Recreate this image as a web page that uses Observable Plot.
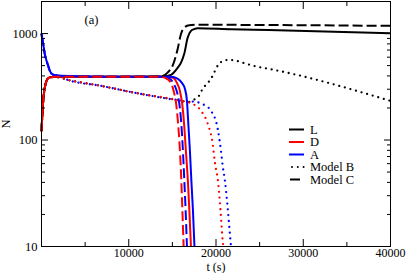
<!DOCTYPE html>
<html><head><meta charset="utf-8">
<script src="https://cdn.jsdelivr.net/npm/d3@7"></script>
<script src="https://cdn.jsdelivr.net/npm/@observablehq/plot@0.6"></script>
<style>
body{margin:0;background:#fff}
#wrap{position:relative;width:407px;height:273px;font-family:"Liberation Serif","Times New Roman",serif}
#legend{position:absolute;left:286px;top:122px}
</style></head><body><div id="wrap"></div>
<script>
// ---- data ----
const species = ["L", "D", "A"];
const models = ["A", "B", "C"];
const legendLabels = ["L", "D", "A", "Model B", "Model C"];

// start transient (shared)
const tStartLD = [0, 80, 195, 380, 575, 885, 1530];
const nStartLD = [122, 163, 233, 311, 360, 386, 392];
const tStartA = [0, 195, 380, 575, 770, 955, 1345, 2100];
const nStartA = [986, 794, 641, 555, 497, 447, 410, 401];

// Model A (solid)
const tLA = [8000, 14000, 14830, 15600, 15980, 16360, 16750, 17130, 17500, 17900, 21700, 26000, 40000];
const nLA = [392, 395, 409, 476, 531, 645, 912, 1060, 1100, 1120, 1096, 1077, 1009];
const tDA = [8000, 14250, 15060, 15520, 15860, 16150, 16360, 16550, 16780, 16950, 17130];
const nDA = [392, 392, 384, 344, 290, 210, 136, 79, 41, 21.6, 10];
const tAA = [8000, 14830, 15630, 16090, 16440, 16670, 16840, 17010, 17180, 17360, 17530];
const nAA = [393, 392, 376, 344, 302, 233, 136, 79, 41, 21.6, 10];

// Model B (dotted)
const tLB = [2990, 6780, 10570, 15500, 16900, 17500, 18050, 18470, 19080, 19620, 20000, 20340, 20920, 21490, 22300, 23450, 24830, 25980, 40000];
const nLB = [367, 323, 279, 238, 228, 240, 260, 303, 344, 401, 467, 520, 555, 567, 555, 520, 486, 467, 233];
const tDB = [2990, 6780, 10570, 15500, 16550, 17320, 18280, 19050, 19620, 19890, 20230, 20520, 20770, 20850];
const nDB = [367, 323, 279, 238, 228, 219, 188, 142, 92, 60, 41, 21.6, 11.3, 10];
const tAB = [2990, 6780, 10570, 15500, 16900, 17700, 18620, 19430, 20200, 20570, 20770, 21030, 21320, 21610, 21720];
const nAB = [367, 323, 279, 238, 231, 228, 214, 188, 127, 79, 57, 41, 24, 12.6, 10];

// Model C (dashed)
const tLC = [8000, 13680, 14450, 15020, 15600, 15980, 16360, 16930, 17900, 40000];
const nLC = [392, 395, 430, 497, 713, 986, 1138, 1199, 1208, 1181];
const tDC = [8000, 13680, 14370, 14830, 15170, 15460, 15630, 15800, 15980, 16150, 16290];
const nDC = [392, 392, 376, 344, 284, 210, 151, 98, 51, 21.6, 10];
const tAC = [8000, 14020, 14710, 15170, 15520, 15800, 15980, 16150, 16320, 16520, 16670];
const nAC = [393, 392, 376, 337, 284, 219, 158, 98, 51, 21.6, 10];

const yMajor = [10, 100, 1000];
const yMinor = [20, 30, 40, 50, 60, 70, 80, 90, 200, 300, 400, 500, 600, 700, 800, 900, 2000];
const xMajor = [10000, 20000, 30000, 40000];
const xMinor = [5000, 15000, 25000, 35000];

// ---- build table ----
const raw = {
  LA: [tLA, nLA], DA: [tDA, nDA], AA: [tAA, nAA],
  LB: [tLB, nLB], DB: [tDB, nDB], AB: [tAB, nAB],
  LC: [tLC, nLC], DC: [tDC, nDC], AC: [tAC, nAC]
};
const rows = [];
for (const m of models) for (const s of species) {
  const [ts, ns] = raw[s + m];
  const st = s === "A" ? tStartA : tStartLD;
  const sn = s === "A" ? nStartA : nStartLD;
  st.forEach((t, i) => rows.push({key: s + m, sp: s, model: m, t, n: sn[i]}));
  ts.forEach((t, i) => rows.push({key: s + m, sp: s, model: m, t, n: ns[i]}));
}
const colors = {L: "#000000", D: "#ff0000", A: "#0000ff"};
const dashes = {A: null, B: "0,5.8", C: "10,4"};
const caps = {A: "butt", B: "round", C: "butt"};

const lineMarks = [];
const order = [["L","B"],["D","B"],["A","B"],["L","A"],["D","A"],["A","A"],["L","C"],["A","C"],["D","C"]];
for (const [s, m] of order) {
  lineMarks.push(Plot.line(rows.filter(r => r.key === s + m), {
    x: "t", y: "n", stroke: colors[s], strokeWidth: m === "B" ? 2.3 : 2,
    strokeDasharray: dashes[m], strokeLinecap: caps[m], curve: "monotone-x"
  }));
}

const fs = 12.5;
const serif = "'Liberation Serif','Times New Roman',Times,serif";
const chart = Plot.plot({
  width: 407, height: 273,
  marginLeft: 41, marginRight: 17, marginTop: 1, marginBottom: 27,
  style: {fontFamily: serif, fontSize: fs + "px", background: "#fff", color: "#000"},
  x: {domain: [0, 40000]},
  y: {type: "log", domain: [10, 2000]},
  marks: [
    ...lineMarks,
    Plot.frame({stroke: "#000", strokeWidth: 1}),
    Plot.axisY(yMajor, {anchor: "left", tickSize: -7, tickPadding: 11, tickFormat: d => String(d), fontSize: fs,
      label: "N", labelAnchor: "center", labelOffset: 40, labelArrow: "none"}),
    Plot.axisY(yMinor, {anchor: "left", tickSize: -4, tickFormat: () => "", label: null}),
    Plot.axisY(yMajor, {anchor: "right", tickSize: -7, tickFormat: () => "", label: null}),
    Plot.axisY(yMinor, {anchor: "right", tickSize: -4, tickFormat: () => "", label: null}),
    Plot.axisX(xMajor, {anchor: "bottom", tickSize: -7, tickPadding: 9, tickFormat: d => String(d), fontSize: 12,
      label: "t (s)", labelAnchor: "center", labelOffset: 24, labelArrow: "none"}),
    Plot.axisX(xMinor, {anchor: "bottom", tickSize: -4, tickFormat: () => "", label: null}),
    Plot.axisX(xMajor, {anchor: "top", tickSize: -7, tickFormat: () => "", label: null}),
    Plot.axisX(xMinor, {anchor: "top", tickSize: -4, tickFormat: () => "", label: null}),
    Plot.text(["(a)"], {frameAnchor: "top-left", dx: 43, dy: 14, fontSize: fs})
  ]
});
const wrap = document.getElementById("wrap");
wrap.appendChild(chart);

// ---- legend overlay ----
const leg = d3.select(wrap).append("svg").attr("id", "legend")
  .attr("width", 80).attr("height", 70);
legendLabels.forEach((lab, i) => {
  const y = 7.5 + i * 12.5;
  const g = leg.append("g");
  let stroke = "#000", dash = null, x1 = 3, x2 = 18, cap = "butt";
  if (lab === "D") stroke = colors.D;
  if (lab === "A") stroke = colors.A;
  if (lab === "Model B") { dash = "0,5.8"; x1 = 6; x2 = 19; cap = "round"; }
  if (lab === "Model C") { x1 = 4; x2 = 14; }
  g.append("line").attr("x1", x1).attr("x2", x2).attr("y1", y).attr("y2", y)
    .attr("stroke", stroke).attr("stroke-width", 2).attr("stroke-dasharray", dash)
    .attr("stroke-linecap", cap);
  g.append("text").attr("x", 24).attr("y", y).attr("dy", "0.35em")
    .attr("font-size", fs + "px").attr("font-family", serif)
    .text(lab);
});
</script>
</body></html>
